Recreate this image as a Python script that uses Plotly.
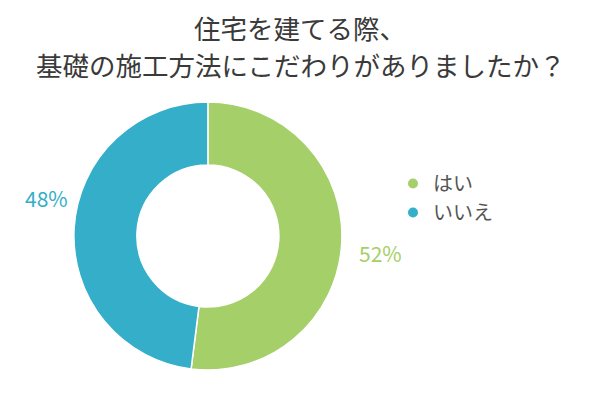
import plotly.graph_objects as go

labels = ["はい", "いいえ"]
values = [52, 48]
colors = ["#a5cf69", "#35aec9"]
title_lines = ["住宅を建てる際、", "基礎の施工方法にこだわりがありましたか？"]

FONT = "Noto Sans CJK JP"
W, H = 600, 400

fig = go.Figure()
fig.add_trace(go.Pie(
    labels=labels, values=values, hole=0.53, sort=False, direction="clockwise",
    rotation=0, marker=dict(colors=colors, line=dict(color="white", width=1.5)),
    textinfo="none", showlegend=False,
    domain=dict(x=[0.123, 0.57], y=[0.075, 0.745]),
))
for lab, col in zip(labels, colors):
    fig.add_trace(go.Scatter(x=[None], y=[None], mode="markers", name=lab,
                             marker=dict(symbol="circle", size=10, color=col)))

# percentage labels (text from values)
label_pos = [(380, 253), (46, 198)]
annotations = []
for v, col, (px, py) in zip(values, colors, label_pos):
    annotations.append(dict(text=f"{v}%", x=px / W, y=1 - py / H, xref="paper", yref="paper",
                            xanchor="center", yanchor="middle", showarrow=False,
                            font=dict(size=21, color=col, family=FONT)))
for line, py in zip(title_lines, [27, 65]):
    annotations.append(dict(text=line, x=0.5, y=1 - py / H, xref="paper", yref="paper",
                            xanchor="center", yanchor="middle", showarrow=False,
                            font=dict(size=26.5, color="#3a3a3a", family=FONT)))

fig.update_layout(
    width=W, height=H, margin=dict(l=0, r=0, t=0, b=0),
    paper_bgcolor="white", plot_bgcolor="white",
    font=dict(family=FONT, color="#444"),
    xaxis=dict(visible=False), yaxis=dict(visible=False),
    annotations=annotations,
    legend=dict(x=0.655, y=1 - 198 / H, xanchor="left", yanchor="middle",
                font=dict(size=20, color="#555"), itemwidth=30),
)
fig.write_html("out.html")
